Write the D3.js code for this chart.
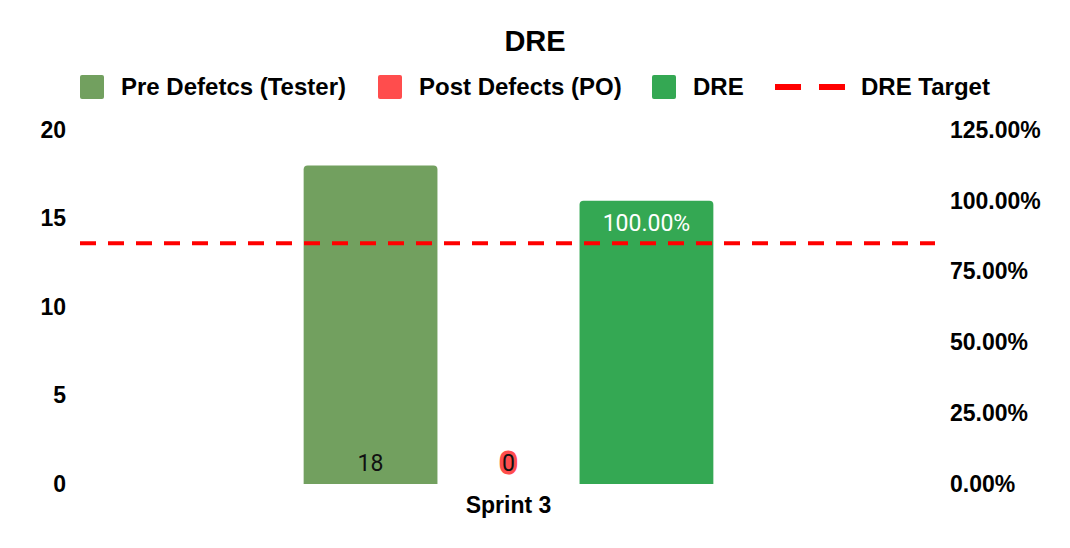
<!DOCTYPE html>
<html>
<head>
<meta charset="utf-8">
<script src="https://cdn.jsdelivr.net/npm/d3@7"></script>
<style>
  body { margin: 0; background: #fff; }
  text { font-family: "Liberation Sans", Arial, sans-serif; }
</style>
</head>
<body>
<div id="chart"></div>
<script>
// data
var categories = ["Sprint 3"];
var preDefects = [18];
var postDefects = [0];
var dreValues = [100];
var dreTarget = 85;
var leftTicks = [0, 5, 10, 15, 20];
var rightTicks = [0, 25, 50, 75, 100, 125];
var seriesNames = ["Pre Defetcs (Tester)", "Post Defects (PO)", "DRE"];
var targetName = "DRE Target";

var colors = ["#72a05f", "#ff4d4d", "#34a853"];
var targetColor = "#ff0000";

var W = 1070, H = 548;
var margin = {top: 130, right: 134, bottom: 64, left: 81},
    width = W - margin.left - margin.right,
    height = H - margin.top - margin.bottom;

var svg = d3.select("#chart")
    .append("svg")
    .attr("width", W)
    .attr("height", H);

// title
svg.append("text")
    .attr("x", 535)
    .attr("y", 51)
    .attr("text-anchor", "middle")
    .style("font-size", "29px")
    .style("font-weight", "bold")
    .text("DRE");

// legend
var legendItems = [
  {name: seriesNames[0], color: colors[0], x: 80},
  {name: seriesNames[1], color: colors[1], x: 378},
  {name: seriesNames[2], color: colors[2], x: 652}
];
var lg = svg.append("g");
legendItems.forEach(function(d) {
  lg.append("rect")
      .attr("x", d.x).attr("y", 75)
      .attr("width", 24).attr("height", 24)
      .attr("rx", 2)
      .attr("fill", d.color);
  lg.append("text")
      .attr("x", d.x + 41).attr("y", 95)
      .style("font-size", "24px")
      .style("font-weight", "bold")
      .text(d.name);
});
lg.append("line")
    .attr("x1", 775).attr("x2", 845)
    .attr("y1", 87).attr("y2", 87)
    .attr("stroke", targetColor)
    .attr("stroke-width", 6)
    .attr("stroke-dasharray", "26,18");
lg.append("text")
    .attr("x", 861).attr("y", 95)
    .style("font-size", "24px")
    .style("font-weight", "bold")
    .text(targetName);

var g = svg.append("g")
    .attr("transform", "translate(" + margin.left + "," + margin.top + ")");

// scales
var x = d3.scaleBand()
    .domain(categories)
    .range([0, width])
    .paddingInner(0)
    .paddingOuter(0.533);

var xSub = d3.scaleBand()
    .domain([0, 1, 2])
    .range([0, x.bandwidth()])
    .paddingInner(0.03)
    .paddingOuter(0.015);

var yLeft = d3.scaleLinear().domain([0, 20]).range([height, 0]);
var yRight = d3.scaleLinear().domain([0, 125]).range([height, 0]);

// axes
var axL = g.append("g")
    .call(d3.axisLeft(yLeft).tickValues(leftTicks).tickSize(0).tickPadding(15));
var axR = g.append("g")
    .attr("transform", "translate(" + width + ",0)")
    .call(d3.axisRight(yRight).tickValues(rightTicks).tickSize(0).tickPadding(14)
      .tickFormat(function(d) { return d3.format(".2f")(d) + "%"; }));
var axX = g.append("g")
    .attr("transform", "translate(0," + height + ")")
    .call(d3.axisBottom(x).tickSize(0).tickPadding(13));

[axL, axR, axX].forEach(function(a) {
  a.select(".domain").remove();
  a.selectAll("text")
      .style("font-family", "'Liberation Sans', Arial, sans-serif")
      .style("font-size", "23px")
      .style("font-weight", "bold")
      .attr("fill", "#000");
});

// rounded-top bar path
function topRounded(x0, y0, w, h, r) {
  r = Math.min(r, h, w / 2);
  if (h <= 0) return "";
  return "M" + x0 + "," + (y0 + h) +
    "V" + (y0 + r) +
    "Q" + x0 + "," + y0 + " " + (x0 + r) + "," + y0 +
    "H" + (x0 + w - r) +
    "Q" + (x0 + w) + "," + y0 + " " + (x0 + w) + "," + (y0 + r) +
    "V" + (y0 + h) + "Z";
}

var rows = categories.map(function(c, i) {
  return [
    {cat: c, k: 0, v: preDefects[i], y: yLeft, label: String(preDefects[i])},
    {cat: c, k: 1, v: postDefects[i], y: yLeft, label: String(postDefects[i])},
    {cat: c, k: 2, v: dreValues[i], y: yRight, label: d3.format(".2f")(dreValues[i]) + "%"}
  ];
});

var groups = g.selectAll(".grp")
    .data(rows)
    .enter().append("g")
    .attr("transform", function(d, i) { return "translate(" + x(categories[i]) + ",0)"; });

groups.selectAll("path")
    .data(function(d) { return d; })
    .enter().append("path")
    .attr("d", function(d) {
      var top = d.y(d.v);
      return topRounded(xSub(d.k), top, xSub.bandwidth(), height - top, 4);
    })
    .attr("fill", function(d) { return colors[d.k]; });

// target line
g.append("line")
    .attr("x1", -1).attr("x2", width - 1)
    .attr("y1", yRight(dreTarget)).attr("y2", yRight(dreTarget))
    .attr("stroke", targetColor)
    .attr("stroke-width", 4)
    .attr("stroke-dasharray", "16,12");

// value labels
groups.selectAll(".lbl")
    .data(function(d) { return d; })
    .enter().append("text")
    .attr("x", function(d) { return xSub(d.k) + xSub.bandwidth() / 2; })
    .attr("y", function(d) { return d.k === 2 ? d.y(d.v) + 30 : height - 13; })
    .attr("text-anchor", "middle")
    .style("font-family", "Roboto, sans-serif")
    .style("font-size", "23px")
    .style("paint-order", "stroke")
    .attr("stroke", function(d) { return d.k === 1 ? colors[1] : "none"; })
    .attr("stroke-width", function(d) { return d.k === 1 ? 7 : 0; })
    .attr("stroke-linejoin", "round")
    .attr("fill", function(d) { return d.k === 2 ? "#fff" : "#111"; })
    .text(function(d) { return d.label; });
</script>
</body>
</html>
